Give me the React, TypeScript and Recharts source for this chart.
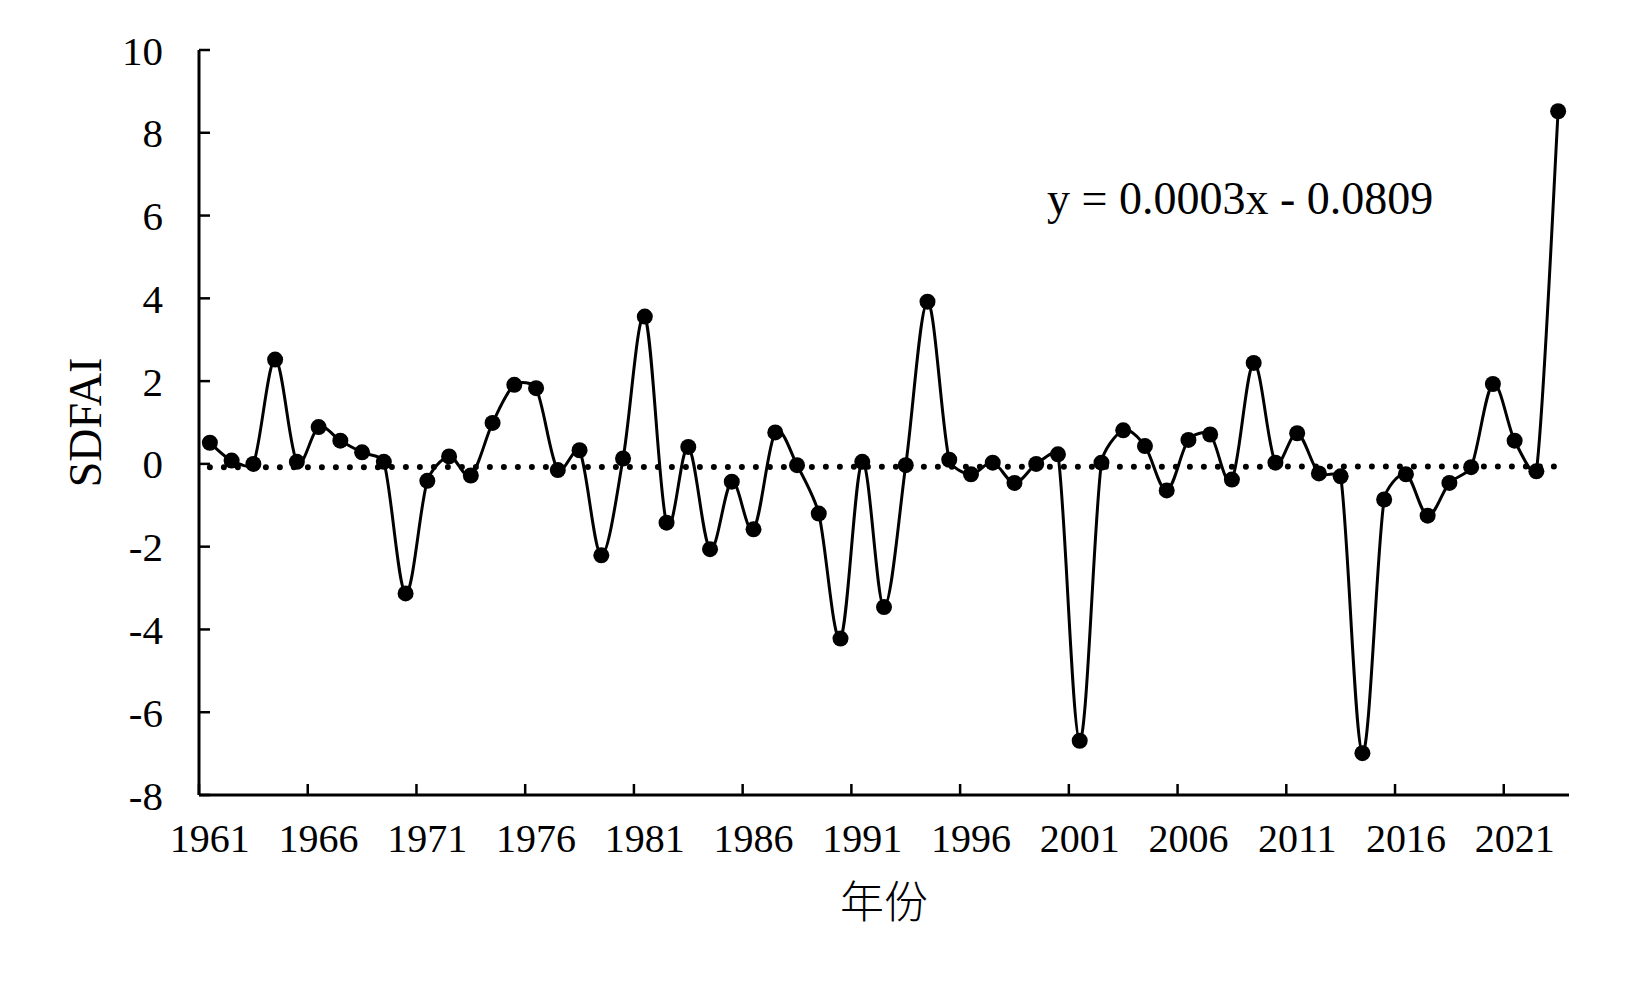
import React from 'react';
import { ComposedChart, Line, XAxis, YAxis, Label } from 'recharts';

// ---- data ----
const years: number[] = Array.from({ length: 63 }, (_, i) => 1961 + i);
const sdfai: number[] = [
  0.51, 0.08, 0.0, 2.52, 0.05, 0.89, 0.56, 0.28, 0.05, -3.13,
  -0.41, 0.18, -0.28, 0.99, 1.91, 1.83, -0.15, 0.33, -2.21, 0.13,
  3.56, -1.42, 0.41, -2.06, -0.43, -1.58, 0.76, -0.03, -1.2, -4.22,
  0.05, -3.46, -0.03, 3.92, 0.1, -0.25, 0.03, -0.46, 0.0, 0.23,
  -6.69, 0.03, 0.81, 0.43, -0.64, 0.58, 0.71, -0.38, 2.44, 0.03,
  0.74, -0.23, -0.3, -6.99, -0.86, -0.25, -1.25, -0.46, -0.08, 1.93,
  0.56, -0.18, 8.52,
];
const trendSlope = 0.0003;
const trendIntercept = -0.0809;
const equationText = 'y = 0.0003x - 0.0809';
const xLabelYears: number[] = [1961, 1966, 1971, 1976, 1981, 1986, 1991, 1996, 2001, 2006, 2011, 2016, 2021];
const yTicks: number[] = [-8, -6, -4, -2, 0, 2, 4, 6, 8, 10];
const xTitle = '年份';
const yTitle = 'SDFAI';

const data = years.map((year, i) => ({
  year,
  value: sdfai[i],
  trend: trendSlope * (i + 1) + trendIntercept,
}));
const xBoundaryTicks = xLabelYears.map((y) => y - 0.5);
const xDomain: [number, number] = [years[0] - 0.5, years[years.length - 1] + 0.5];

// Excel-like smoothed line: tangent direction from neighbours, length limited by segment length
function excelSmooth(context: any) {
  let pts: number[][] = [];
  const ctrl = (a: number[], b: number[], segLen: number) => {
    const dx = b[0] - a[0];
    const dy = b[1] - a[1];
    const d = Math.hypot(dx, dy);
    if (d === 0) return [0, 0];
    const len = Math.min(d / 6, segLen * 0.3);
    return [(dx / d) * len, (dy / d) * len];
  };
  return {
    areaStart() {},
    areaEnd() {},
    lineStart() {
      pts = [];
    },
    point(x: number, y: number) {
      pts.push([+x, +y]);
    },
    lineEnd() {
      const n = pts.length;
      if (!n) return;
      context.moveTo(pts[0][0], pts[0][1]);
      for (let i = 0; i < n - 1; i++) {
        const p0 = pts[i - 1] || pts[i];
        const p1 = pts[i];
        const p2 = pts[i + 1];
        const p3 = pts[i + 2] || p2;
        const seg = Math.hypot(p2[0] - p1[0], p2[1] - p1[1]);
        const t1 = ctrl(p0, p2, seg);
        const t2 = ctrl(p1, p3, seg);
        context.bezierCurveTo(p1[0] + t1[0], p1[1] + t1[1], p2[0] - t2[0], p2[1] - t2[1], p2[0], p2[1]);
      }
    },
  };
}

const SERIF = '"Liberation Serif", "Times New Roman", serif';
const CJK = '"Noto Sans CJK SC", sans-serif';
const EmptyTick = () => <g />;

export default function App() {
  return (
    <div style={{ width: 1634, height: 974 }}>
      <ComposedChart
        width={1634}
        height={974}
        data={data}
        margin={{ top: 42, right: 73, bottom: 59, left: 0 }}
      >
        {/* boundary tick marks (inward) */}
        <XAxis
          xAxisId="tk"
          dataKey="year"
          type="number"
          domain={xDomain}
          ticks={xBoundaryTicks}
          interval={0}
          height={1}
          mirror
          tick={EmptyTick}
          tickSize={11}
          tickLine={{ stroke: '#000', strokeWidth: 2.5 }}
          axisLine={{ stroke: '#000', strokeWidth: 3 }}
          allowDataOverflow
        />
        {/* labels */}
        <XAxis
          xAxisId="lb"
          dataKey="year"
          type="number"
          domain={xDomain}
          ticks={xLabelYears}
          interval={0}
          height={128}
          tickLine={false}
          axisLine={false}
          tickSize={0}
          tickMargin={29}
          tick={{ fill: '#000', fontSize: 40, fontFamily: SERIF }}
          allowDataOverflow
          label={{ value: xTitle, position: 'insideBottom', offset: 5, fontSize: 44, fontFamily: CJK, fontWeight: 300, fill: '#000' }}
        />
        <YAxis
          yAxisId="tk"
          type="number"
          domain={[-8, 10]}
          ticks={yTicks}
          interval={0}
          mirror
          width={1}
          tick={EmptyTick}
          tickSize={11}
          tickLine={{ stroke: '#000', strokeWidth: 2.5 }}
          axisLine={{ stroke: '#000', strokeWidth: 3 }}
        />
        <YAxis
          yAxisId="lb"
          type="number"
          domain={[-8, 10]}
          ticks={yTicks}
          interval={0}
          width={191}
          tickLine={false}
          axisLine={false}
          tickSize={0}
          tickMargin={36}
          tick={{ fill: '#000', fontSize: 41, fontFamily: SERIF }}
        >
          <Label
            content={(p: any) => {
              const vb = p.viewBox || { y: 42, height: 745 };
              const cx = 77;
              const cy = vb.y + vb.height / 2;
              return (
                <text
                  x={cx}
                  y={cy}
                  transform={`rotate(-90 ${cx} ${cy})`}
                  textAnchor="middle"
                  dominantBaseline="central"
                  fontSize={46}
                  fontFamily={SERIF}
                  fill="#000"
                >
                  {yTitle}
                </text>
              );
            }}
          />
          <Label
            content={() => (
              <text x={1039} y={206} fontSize={46} fontFamily={SERIF} fill="#000">
                {equationText}
              </text>
            )}
          />
        </YAxis>
        <Line
          xAxisId="tk"
          yAxisId="tk"
          dataKey="trend"
          type="linear"
          stroke="#000"
          strokeWidth={6}
          strokeDasharray="0 14"
          strokeLinecap="round"
          dot={false}
          activeDot={false}
          isAnimationActive={false}
        />
        <Line
          xAxisId="lb"
          yAxisId="lb"
          dataKey="value"
          type={excelSmooth as any}
          stroke="#000"
          strokeWidth={3}
          dot={{ r: 8, fill: '#000', stroke: '#000', strokeWidth: 0 }}
          activeDot={false}
          isAnimationActive={false}
        />
      </ComposedChart>
    </div>
  );
}
